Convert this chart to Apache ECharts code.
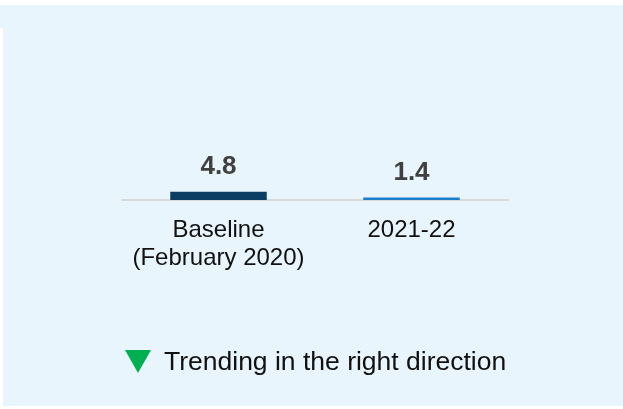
<!DOCTYPE html>
<html>
<head>
<meta charset="utf-8">
<script src="https://cdn.jsdelivr.net/npm/echarts@6/dist/echarts.min.js"></script>
<style>
  html, body { margin: 0; padding: 0; background: #fff; }
  #chart { width: 623px; height: 409px; }
</style>
</head>
<body>
<div id="chart"></div>
<script>
  // data
  var categories = ['Baseline\n(February 2020)', '2021-22'];
  var values = [4.8, 1.4];
  var barColors = ['#0c3d63', '#1b7ec8'];
  var legendText = 'Trending in the right direction';

  var myChart = echarts.init(document.getElementById('chart'));

  var option = {
    backgroundColor: '#ffffff',
    animation: false,
    grid: {
      left: 122,
      right: 115,
      top: 30,
      bottom: 209
    },
    xAxis: {
      type: 'category',
      data: categories,
      axisTick: { show: false },
      axisLine: {
        lineStyle: { color: '#d9d9d9', width: 2 }
      },
      axisLabel: {
        interval: 0,
        margin: 16,
        fontFamily: 'Liberation Sans, Arial',
        fontSize: 24,
        lineHeight: 28,
        color: '#111111'
      }
    },
    yAxis: {
      type: 'value',
      min: 0,
      max: 100,
      show: false,
      splitLine: { show: false }
    },
    series: [{
      type: 'bar',
      barWidth: '50%',
      data: values.map(function (v, i) {
        return { value: v, itemStyle: { color: barColors[i] } };
      }),
      label: {
        show: true,
        position: 'top',
        distance: 12,
        fontFamily: 'Liberation Sans, Arial',
        fontSize: 26,
        fontWeight: 'bold',
        color: '#404040'
      }
    }],
    graphic: [
      // light blue panel
      { type: 'rect', z: -10, shape: { x: 0, y: 5, width: 623, height: 401 }, style: { fill: '#e8f5fc' } },
      { type: 'rect', z: -9, shape: { x: 0, y: 28, width: 3, height: 378 }, style: { fill: '#ffffff' } },
      // legend
      { type: 'polygon', shape: { points: [[125, 350], [151, 350], [138, 373]] }, style: { fill: '#00b050' } },
      {
        type: 'text', x: 164, y: 363,
        style: {
          text: legendText,
          fontFamily: 'Liberation Sans, Arial',
          fontSize: 26.5,
          fill: '#111111',
          verticalAlign: 'middle'
        }
      }
    ]
  };

  myChart.setOption(option);
</script>
</body>
</html>
